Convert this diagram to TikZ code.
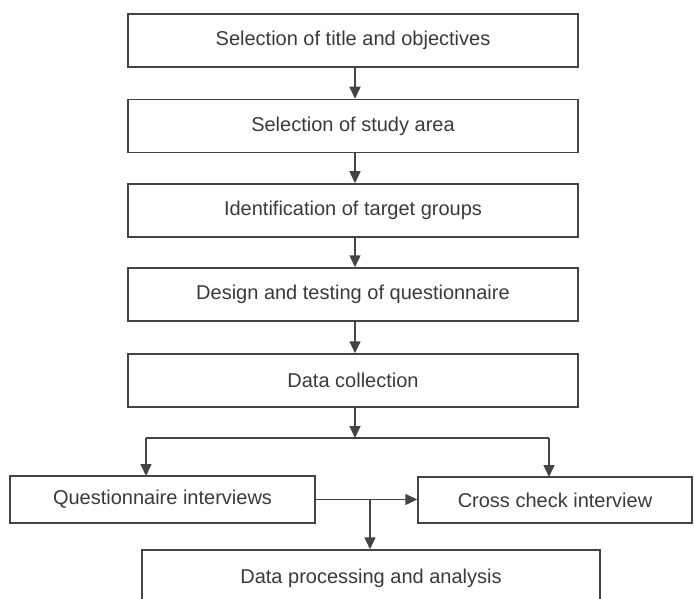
\documentclass[tikz,border=0pt]{standalone}
\usepackage{fontspec}
\setmainfont{Liberation Sans}
\usetikzlibrary{arrows.meta}
\definecolor{ink}{HTML}{444444}
\definecolor{txt}{HTML}{3A3A3A}
\begin{document}
\begin{tikzpicture}[x=1pt,y=-1pt,
  stepbox/.style={draw=ink,line width=1.5pt,minimum width=450pt,minimum height=53pt,
    inner sep=0pt,font=\fontsize{20}{23}\selectfont,text=txt},
  arr/.style={draw=ink,line width=1.5pt,-{Triangle[width=11pt,length=12pt]}},
  ln/.style={draw=ink,line width=1.5pt}]
\clip (0,0) rectangle (694,599);
\node[stepbox] (b1) at (353,40.5) {Selection of title and objectives};
\node[stepbox] (b2) at (353,126) {Selection of study area};
\node[stepbox] (b3) at (353,210.5) {Identification of target groups};
\node[stepbox] (b4) at (353,294.5) {Design and testing of questionnaire};
\node[stepbox] (b5) at (353,380.5) {Data collection};
\node[stepbox,minimum width=305pt,minimum height=47pt] (qi) at (162.5,499.5) {Questionnaire interviews};
\node[stepbox,minimum width=274pt,minimum height=46pt] (cc) at (555,500) {Cross check interview};
\node[stepbox,minimum width=458pt,minimum height=56pt] (dp) at (371,578) {Data processing and analysis};
\coordinate (j) at (355,438);
\coordinate (jl) at (146,438);
\coordinate (jr) at (549,438);
\coordinate (al) at (146,476);
\coordinate (ar) at (549,477);
\coordinate (m) at (370,500);
\draw[arr] (b1.south -| 355,0) -- (b2.north -| 355,0);
\draw[arr] (b2.south -| 355,0) -- (b3.north -| 355,0);
\draw[arr] (b3.south -| 355,0) -- (b4.north -| 355,0);
\draw[arr] (b4.south -| 355,0) -- (b5.north -| 355,0);
\draw[arr] (b5.south -| j) -- (j);
\draw[ln] (jl) -- (jr);
\draw[arr] (jl) -- (al);
\draw[arr] (jr) -- (ar);
\draw[arr] (qi.east) -- (qi.east -| cc.west);
\draw[arr] (m) -- (m |- dp.north);
\end{tikzpicture}
\end{document}
